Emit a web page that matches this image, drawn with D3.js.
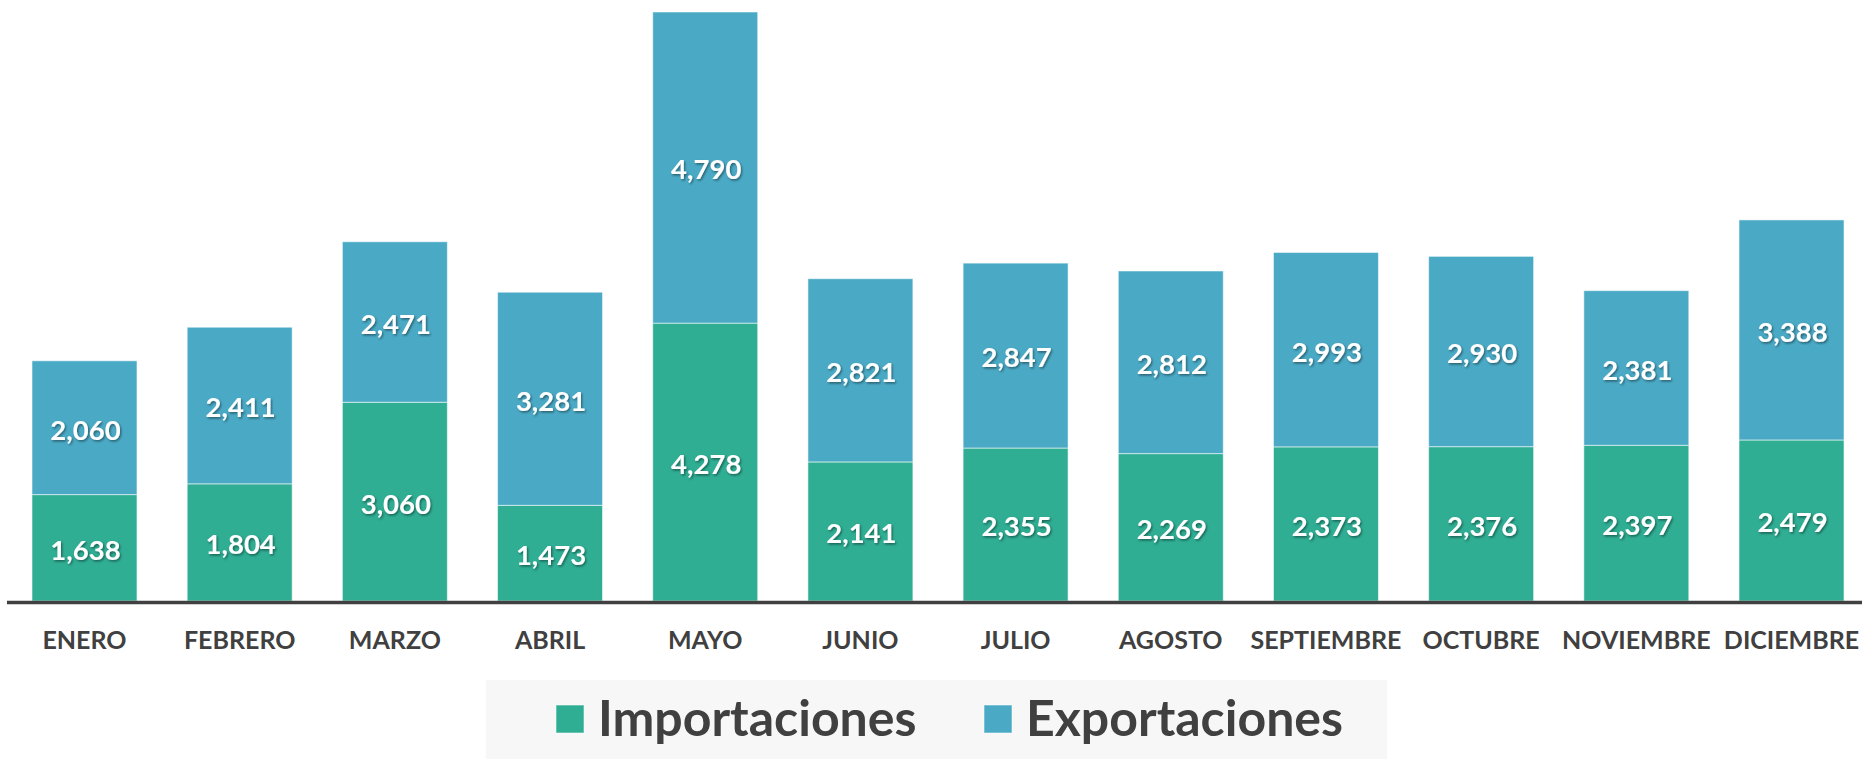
<!DOCTYPE html>
<html>
<head>
<meta charset="utf-8">
<script src="https://cdn.jsdelivr.net/npm/d3@7"></script>
<style>
  html, body { margin: 0; padding: 0; background: #fff; }
  svg { display: block; font-family: Lato, "Open Sans", sans-serif; }
</style>
</head>
<body>
<svg></svg>
<script>
let width = 1862, height = 759;

// datos
let meses = ["ENERO", "FEBRERO", "MARZO", "ABRIL", "MAYO", "JUNIO", "JULIO",
             "AGOSTO", "SEPTIEMBRE", "OCTUBRE", "NOVIEMBRE", "DICIEMBRE"];
let importaciones = [1638, 1804, 3060, 1473, 4278, 2141, 2355, 2269, 2373, 2376, 2397, 2479];
let exportaciones = [2060, 2411, 2471, 3281, 4790, 2821, 2847, 2812, 2993, 2930, 2381, 3388];
let series = ["Importaciones", "Exportaciones"];
let colores = ["#2FAE94", "#4AAAC6"];

let svg = d3.select("svg")
  .attr("width", width)
  .attr("height", height);

// sombra del texto de las etiquetas
let defs = svg.append("defs");
defs.append("filter")
    .attr("id", "sombra")
    .attr("x", "-20%").attr("y", "-20%")
    .attr("width", "140%").attr("height", "150%")
  .append("feDropShadow")
    .attr("dx", 1.2).attr("dy", 1.5)
    .attr("stdDeviation", 1)
    .attr("flood-color", "#000")
    .attr("flood-opacity", 0.45);

let tabla = meses.map((m, i) => ({mes: m, Importaciones: importaciones[i], Exportaciones: exportaciones[i]}));
let apilado = d3.stack().keys(series)(tabla);

let x = d3.scaleBand()
  .domain(meses)
  .range([32, 1844])
  .paddingInner(0.3235)
  .paddingOuter(0);

let y = d3.scaleLinear()
  .domain([0, d3.max(tabla, d => d.Importaciones + d.Exportaciones)])
  .range([601, 12]);

let color = d3.scaleOrdinal().domain(series).range(colores);

let capas = svg.append("g")
  .selectAll("g")
  .data(apilado)
  .join("g")
    .attr("fill", d => color(d.key));

capas.selectAll("rect")
  .data(d => d)
  .join("rect")
    .attr("x", d => x(d.data.mes))
    .attr("y", d => y(d[1]))
    .attr("width", x.bandwidth())
    .attr("height", d => y(d[0]) - y(d[1]))
    .attr("stroke", "rgba(255,255,255,0.55)")
    .attr("stroke-width", 1);

// etiquetas de valores
capas.selectAll("text")
  .data(d => d)
  .join("text")
    .attr("x", d => x(d.data.mes) + x.bandwidth() / 2 + 1)
    .attr("y", d => (y(d[0]) + y(d[1])) / 2 + 2)
    .attr("dy", "0.36em")
    .attr("text-anchor", "middle")
    .attr("fill", "#fff")
    .attr("font-size", 27.5)
    .attr("font-weight", 700)
    .attr("filter", "url(#sombra)")
    .text(d => d3.format(",")(d[1] - d[0]));

// eje x
svg.append("line")
  .attr("x1", 7).attr("x2", width)
  .attr("y1", 602.5).attr("y2", 602.5)
  .attr("stroke", "#404040")
  .attr("stroke-width", 3.5);

let ejeX = svg.append("g")
  .attr("transform", "translate(0,604)")
  .call(d3.axisBottom(x).tickSize(0).tickPadding(0));
ejeX.select(".domain").remove();
ejeX.selectAll("text")
  .attr("y", 45)
  .attr("dy", 0)
  .attr("fill", "#404040")
  .attr("font-size", 25)
  .attr("font-weight", 700)
  .attr("font-family", "Lato, sans-serif");

// leyenda
let leyenda = svg.append("g");
leyenda.append("rect")
  .attr("x", 486).attr("y", 680)
  .attr("width", 901).attr("height", 79)
  .attr("fill", "#F7F7F7");

let posLeyenda = [556, 984];
let item = leyenda.selectAll("g.item")
  .data(series)
  .join("g")
    .attr("class", "item")
    .attr("transform", (d, i) => `translate(${posLeyenda[i]},705)`);

item.append("rect")
  .attr("width", 28).attr("height", 28)
  .attr("fill", d => color(d))
  .attr("stroke", "rgba(255,255,255,0.55)");

item.append("text")
  .attr("x", 42).attr("y", 31)
  .attr("fill", "#404040")
  .attr("font-size", 50)
  .attr("font-weight", 700)
  .text(d => d);
</script>
</body>
</html>
